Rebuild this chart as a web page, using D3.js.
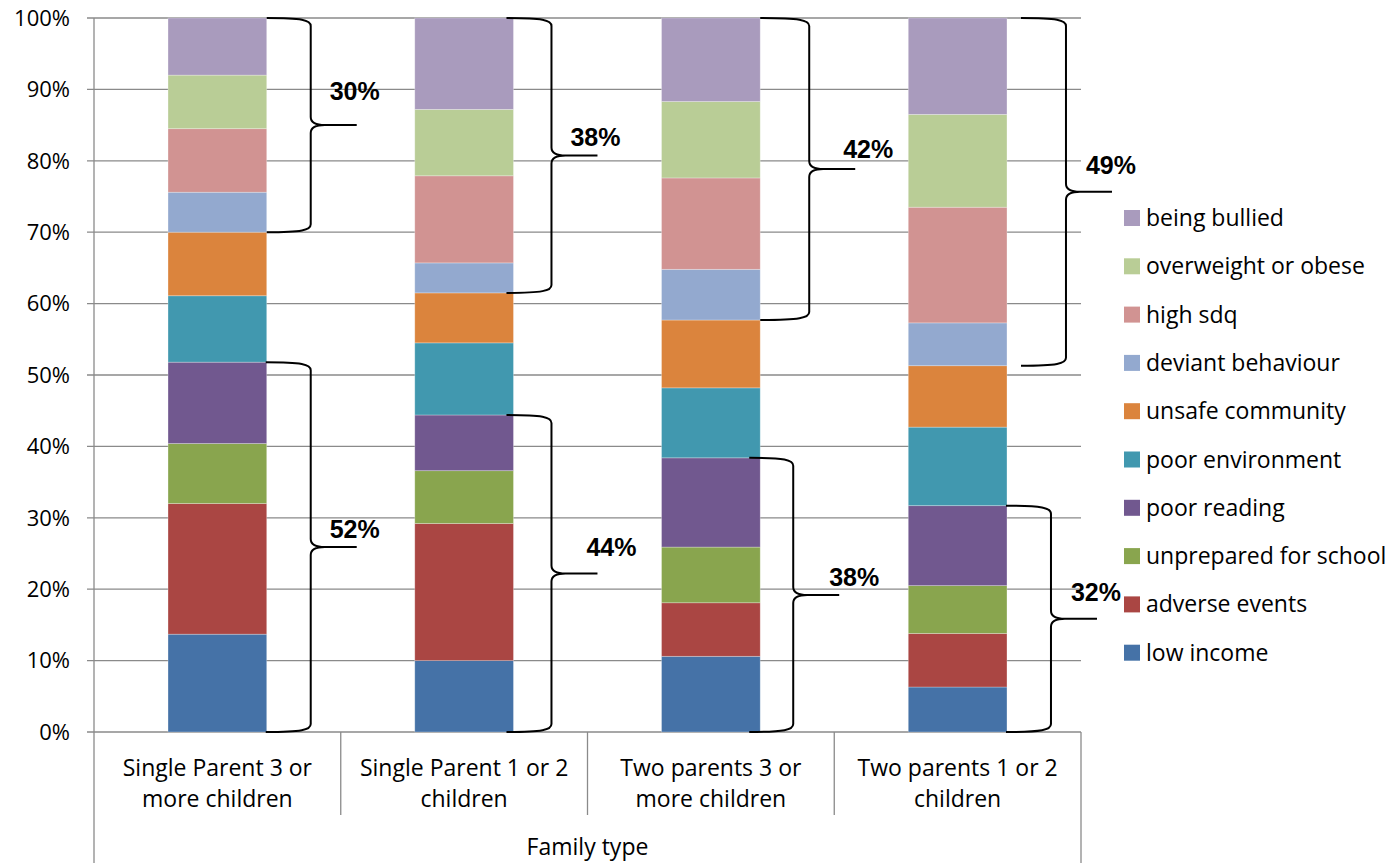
<!DOCTYPE html>
<html>
<head>
<meta charset="utf-8">
<script src="https://cdn.jsdelivr.net/npm/d3@7"></script>
<style>
  body { margin: 0; background: #fff; }
  svg text { font-family: "Open Sans", Lato, sans-serif; fill: #000; }
  .brace-label { font-family: "Liberation Sans", Arial, sans-serif; font-weight: bold; }
</style>
</head>
<body>
<div id="chart"></div>
<script>
// categories (two label lines each)
const categories = ['Single Parent 3 or more children', 'Single Parent 1 or 2 children',
    'Two parents 3 or more children', 'Two parents 1 or 2 children'];
const categoryLines = [
    ['Single Parent 3 or', 'more children'],
    ['Single Parent 1 or 2', 'children'],
    ['Two parents 3 or', 'more children'],
    ['Two parents 1 or 2', 'children']
];
const axisTitle = 'Family type';

// series, bottom to top
const seriesNames = ['low income', 'adverse events', 'unprepared for school', 'poor reading',
    'poor environment', 'unsafe community', 'deviant behaviour', 'high sdq',
    'overweight or obese', 'being bullied'];
const seriesColors = ['#4572A7', '#AA4643', '#89A54E', '#71588F', '#4198AF',
    '#DB843D', '#93A9CF', '#D19392', '#B9CD96', '#A99BBD'];

// share (%) of each series per category, in seriesNames order
const lowIncome      = [13.7, 10.0, 10.6, 6.3];
const adverseEvents  = [18.3, 19.2, 7.5, 7.5];
const unprepared     = [8.4, 7.4, 7.8, 6.7];
const poorReading    = [11.4, 7.8, 12.5, 11.2];
const poorEnv        = [9.3, 10.1, 9.8, 11.0];
const unsafe         = [8.9, 7.0, 9.5, 8.6];
const deviant        = [5.6, 4.2, 7.1, 6.0];
const highSdq        = [8.9, 12.2, 12.8, 16.2];
const overweight     = [7.5, 9.3, 10.7, 13.0];
const bullied        = [8.0, 12.8, 11.7, 13.5];
const seriesValues = [lowIncome, adverseEvents, unprepared, poorReading, poorEnv,
    unsafe, deviant, highSdq, overweight, bullied];

// brace groups: bottom four series and top four series
const bottomGroup = [0, 1, 2, 3];
const topGroup = [6, 7, 8, 9];
const bottomLabels = ['52%', '44%', '38%', '32%'];
const topLabels = ['30%', '38%', '42%', '49%'];
const yTicks = [0, 10, 20, 30, 40, 50, 60, 70, 80, 90, 100];

// layout
const W = 1393, H = 863;
const plot = { left: 94, right: 1081, top: 18, bottom: 732 };
// brace placement relative to bar right edge: [start, arm]; label offset from tip: [dx, dy]
const braceTop = [[0, 44], [-7, 45], [0, 49], [14, 45]];
const braceBottom = [[-1, 45], [-7, 45], [-11, 44], [-1, 45]];
const tipLen = 46;
const topLabelOff = [[-27, -25], [-27, -9], [-12, -11], [-26, -18]];
const bottomLabelOff = [[-27, -9], [-11, -17], [-10, -9], [-26, -18]];
const fontSize = '23px';

const svg = d3.select('#chart').append('svg')
    .attr('width', W).attr('height', H);

const x = d3.scaleBand()
    .domain(categories)
    .range([plot.left, plot.right])
    .paddingInner(0.6)
    .paddingOuter(0.3);

const step = (plot.right - plot.left) / categories.length;

const y = d3.scaleLinear()
    .domain([0, 100])
    .range([plot.bottom, plot.top]);

// gridlines
svg.append('g')
    .selectAll('line')
    .data(yTicks)
    .enter().append('line')
    .attr('x1', plot.left - 7)
    .attr('x2', plot.right)
    .attr('y1', d => y(d))
    .attr('y2', d => y(d))
    .attr('stroke', '#8a8a8a')
    .attr('stroke-width', 1.3);

// y tick labels
svg.append('g')
    .selectAll('text')
    .data(yTicks)
    .enter().append('text')
    .attr('x', 70)
    .attr('y', d => y(d))
    .attr('dy', '0.35em')
    .attr('text-anchor', 'end')
    .style('font-size', '22px')
    .text(d => d + '%');

// stacked bars
const stacked = categories.map((c, ci) => {
    let acc = 0;
    return seriesValues.map((vals, si) => {
        const y0 = acc;
        acc += vals[ci];
        return { cat: c, si: si, y0: y0, y1: acc };
    });
});
const total = stacked.map(s => s[s.length - 1].y1);

svg.append('g')
    .selectAll('g')
    .data(stacked)
    .enter().append('g')
    .selectAll('rect')
    .data((d, ci) => d.map(s => Object.assign({ ci: ci }, s)))
    .enter().append('rect')
    .attr('x', d => x(d.cat))
    .attr('width', x.bandwidth())
    .attr('y', d => y(d.y1 / total[d.ci] * 100))
    .attr('height', d => y(d.y0 / total[d.ci] * 100) - y(d.y1 / total[d.ci] * 100))
    .attr('fill', d => seriesColors[d.si])
    .attr('stroke', 'rgba(255,255,255,0.35)')
    .attr('stroke-width', 0.8);

// axis lines
const axes = svg.append('g').attr('stroke', '#8a8a8a').attr('stroke-width', 1.3);
axes.append('line')
    .attr('x1', plot.left).attr('x2', plot.left)
    .attr('y1', plot.top).attr('y2', H);
axes.append('line')
    .attr('x1', plot.right).attr('x2', plot.right)
    .attr('y1', plot.bottom).attr('y2', H);
axes.selectAll('.sep')
    .data(d3.range(1, categories.length))
    .enter().append('line')
    .attr('class', 'sep')
    .attr('x1', i => plot.left + i * step)
    .attr('x2', i => plot.left + i * step)
    .attr('y1', plot.bottom)
    .attr('y2', 815);

// category labels
categories.forEach((c, i) => {
    const cx = x(c) + x.bandwidth() / 2;
    svg.append('text')
        .attr('x', cx)
        .attr('y', 776)
        .attr('text-anchor', 'middle')
        .style('font-size', fontSize)
        .text(categoryLines[i][0]);
    svg.append('text')
        .attr('x', cx)
        .attr('y', 807)
        .attr('text-anchor', 'middle')
        .style('font-size', fontSize)
        .text(categoryLines[i][1]);
});

svg.append('text')
    .attr('x', (plot.left + plot.right) / 2)
    .attr('y', 855)
    .attr('text-anchor', 'middle')
    .style('font-size', fontSize)
    .text(axisTitle);

// curly braces
function bracePath(x0, xv, xt, yTop, yBot) {
    const ym = (yTop + yBot) / 2;
    const r = 8;
    return `M${x0},${yTop} C${x0 + (xv - x0) * 0.8},${yTop} ${xv},${yTop + 2} ${xv},${yTop + r}` +
        ` L${xv},${ym - r} Q${xv},${ym} ${xv + 14},${ym} L${xt},${ym}` +
        ` M${xv + 14},${ym} Q${xv},${ym} ${xv},${ym + r} L${xv},${yBot - r}` +
        ` C${xv},${yBot - 2} ${x0 + (xv - x0) * 0.8},${yBot} ${x0},${yBot}`;
}

const braces = svg.append('g');
function drawBrace(ci, group, placement, label, labelOff) {
    const s = stacked[ci];
    const lo = s[group[0]].y0 / total[ci] * 100;
    const hi = s[group[group.length - 1]].y1 / total[ci] * 100;
    const edge = x(categories[ci]) + x.bandwidth();
    const x0 = edge + placement[0];
    const xv = x0 + placement[1];
    const xt = xv + tipLen;
    const yTop = y(hi), yBot = y(lo);
    braces.append('path')
        .attr('d', bracePath(x0, xv, xt, yTop, yBot))
        .attr('fill', 'none')
        .attr('stroke', '#000')
        .attr('stroke-width', 2);
    braces.append('text')
        .attr('class', 'brace-label')
        .attr('x', xt + labelOff[0])
        .attr('y', (yTop + yBot) / 2 + labelOff[1])
        .style('font-size', '25px')
        .text(label);
}
categories.forEach((c, i) => {
    drawBrace(i, topGroup, braceTop[i], topLabels[i], topLabelOff[i]);
    drawBrace(i, bottomGroup, braceBottom[i], bottomLabels[i], bottomLabelOff[i]);
});

// legend, top to bottom = reverse of stack
const legendOrder = seriesNames.map((n, i) => i).reverse();
const legend = svg.append('g')
    .selectAll('g')
    .data(legendOrder)
    .enter().append('g')
    .attr('transform', (d, i) => `translate(1124, ${210 + i * 48.3})`);
legend.append('rect')
    .attr('width', 16).attr('height', 16)
    .attr('fill', d => seriesColors[d]);
legend.append('text')
    .attr('x', 22)
    .attr('y', 8)
    .attr('dy', '0.35em')
    .style('font-size', fontSize)
    .text(d => seriesNames[d]);
</script>
</body>
</html>
